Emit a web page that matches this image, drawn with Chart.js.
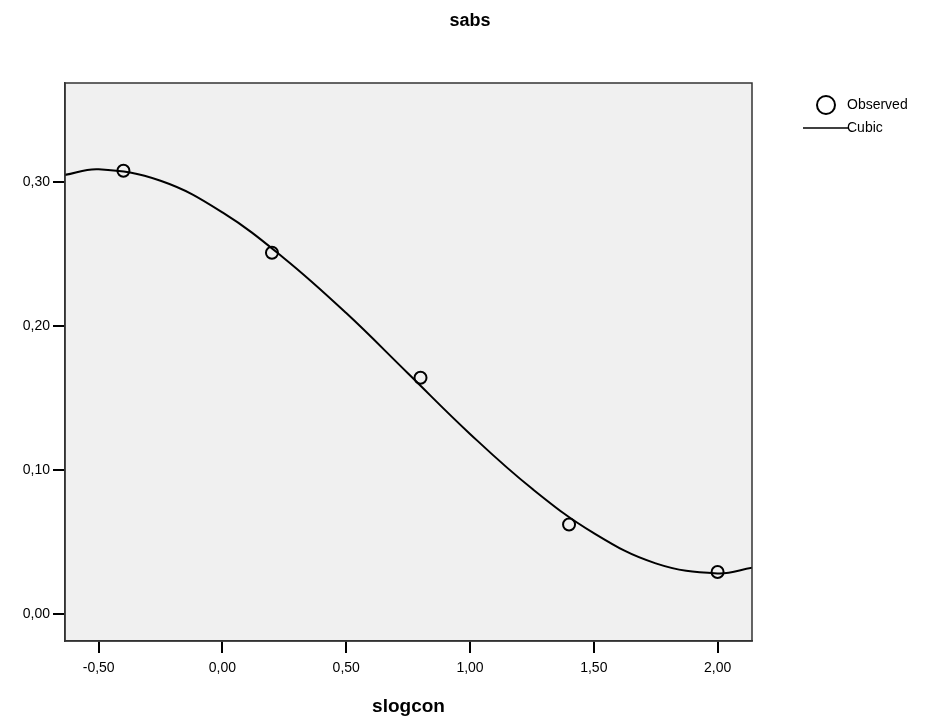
<!DOCTYPE html>
<html>
<head>
<meta charset="utf-8">
<script src="https://cdn.jsdelivr.net/npm/chart.js@4"></script>
<style>
html,body{margin:0;padding:0;background:#fff;}
#wrap{width:932px;height:727px;position:relative;}
</style>
</head>
<body>
<div id="wrap"><canvas id="c" width="932" height="727"></canvas></div>
<script>
// ---- data ----
const chartTitle = "sabs";
const xAxisTitle = "slogcon";
const observedX = [-0.40, 0.20, 0.80, 1.40, 2.00];
const observedY = [0.308, 0.251, 0.164, 0.062, 0.029];
const cubicX = [-0.64, -0.50, -0.25, 0.00, 0.25, 0.50, 0.75, 1.00, 1.25, 1.50, 1.75, 2.00, 2.14];
const cubicY = [0.305, 0.309, 0.301, 0.279, 0.247, 0.209, 0.167, 0.125, 0.087, 0.056, 0.035, 0.028, 0.032];
const xTicks = [-0.5, 0.0, 0.5, 1.0, 1.5, 2.0];
const yTicks = [0.0, 0.1, 0.2, 0.3];
const legendLabels = ["Observed", "Cubic"];

const FONT = "'Liberation Sans', Arial, sans-serif";
const fmt = v => v.toFixed(2).replace('.', ',');

const plotBg = {
  id: 'plotBg',
  beforeDraw(chart) {
    const {ctx, chartArea: a} = chart;
    ctx.save();
    ctx.fillStyle = '#f0f0f0';
    ctx.fillRect(a.left, a.top, a.right - a.left, a.bottom - a.top);
    ctx.restore();
  },
  afterDraw(chart) {
    const {ctx, chartArea: a} = chart;
    ctx.save();
    ctx.strokeStyle = '#333';
    ctx.lineWidth = 1.5;
    ctx.strokeRect(a.left, a.top, a.right - a.left, a.bottom - a.top);
    // title
    ctx.fillStyle = '#000';
    ctx.font = "bold 18px " + FONT;
    ctx.textAlign = 'center';
    ctx.textBaseline = 'middle';
    ctx.fillText(chartTitle, 470, 21);
    // legend
    ctx.font = "14px " + FONT;
    ctx.textAlign = 'left';
    ctx.strokeStyle = '#000';
    ctx.lineWidth = 2;
    ctx.beginPath();
    ctx.arc(826, 105, 9, 0, Math.PI * 2);
    ctx.stroke();
    ctx.fillText(legendLabels[0], 847, 105);
    ctx.lineWidth = 1.5;
    ctx.beginPath();
    ctx.moveTo(803, 128);
    ctx.lineTo(848, 128);
    ctx.stroke();
    ctx.fillText(legendLabels[1], 847, 128);
    ctx.restore();
  }
};

new Chart(document.getElementById('c'), {
  type: 'scatter',
  data: {
    datasets: [
      {
        label: legendLabels[1],
        data: cubicX.map((x, i) => ({x, y: cubicY[i]})),
        showLine: true,
        borderColor: '#000',
        borderWidth: 2,
        pointRadius: 0,
        tension: 0.4,
        fill: false,
        clip: 0,
        order: 2
      },
      {
        label: legendLabels[0],
        data: observedX.map((x, i) => ({x, y: observedY[i]})),
        showLine: false,
        borderColor: '#000',
        backgroundColor: 'rgba(0,0,0,0)',
        borderWidth: 2,
        pointRadius: 6,
        pointStyle: 'circle',
        order: 1
      }
    ]
  },
  options: {
    responsive: false,
    animation: false,
    devicePixelRatio: 1,
    layout: { padding: { left: 0, top: 83, right: 180, bottom: 0 } },
    plugins: {
      legend: { display: false },
      title: { display: false },
      tooltip: { enabled: false }
    },
    scales: {
      x: {
        type: 'linear',
        min: -0.636,
        max: 2.139,
        afterFit(s) { s.height = 86; },
        afterBuildTicks(s) { s.ticks = xTicks.map(v => ({value: v})); },
        grid: { drawOnChartArea: false, drawTicks: true, tickLength: 12, color: '#000', lineWidth: 2 },
        border: { display: true, color: '#333', width: 1.5 },
        ticks: { color: '#000', font: { family: FONT, size: 14 }, padding: 7, maxRotation: 0, autoSkip: false, callback: v => fmt(v) },
        title: { display: true, text: xAxisTitle, color: '#000', font: { family: FONT, size: 19, weight: 'bold' }, padding: { top: 0, bottom: 9 } }
      },
      y: {
        type: 'linear',
        min: -0.019,
        max: 0.369,
        afterFit(s) { s.width = 65; },
        afterBuildTicks(s) { s.ticks = yTicks.map(v => ({value: v})); },
        grid: { drawOnChartArea: false, drawTicks: true, tickLength: 12, color: '#000', lineWidth: 2 },
        border: { display: true, color: '#333', width: 1.5 },
        ticks: { color: '#000', font: { family: FONT, size: 14 }, padding: 3, autoSkip: false, callback: v => fmt(v) }
      }
    }
  },
  plugins: [plotBg]
});
</script>
</body>
</html>
